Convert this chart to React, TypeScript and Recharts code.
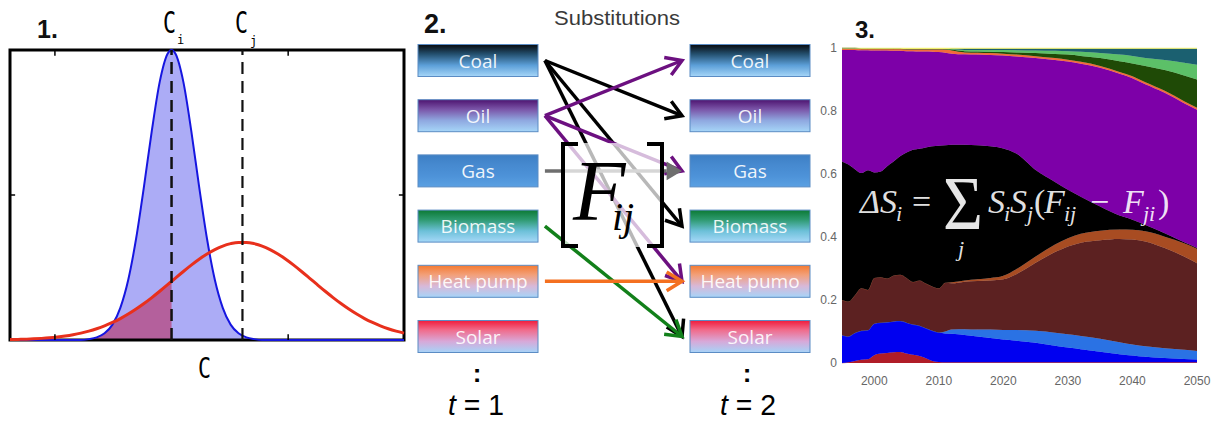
import React from 'react';
import {
  ComposedChart,
  AreaChart,
  Area,
  Line,
  Scatter,
  XAxis,
  YAxis,
  ReferenceLine,
  ReferenceArea,
} from 'recharts';

// ---- panel 1: two concentration densities ----
const cGrid = [
  0, 2, 4, 6, 8, 10, 12, 14, 16, 18, 20, 22, 24, 26, 28, 30, 32, 34, 36, 38, 40, 41, 42, 44, 46,
  48, 50, 52, 54, 56, 58, 60, 62, 64, 66, 68, 70, 72, 74, 76, 78, 80, 82, 84, 86, 88, 90, 92, 94,
  96, 98, 100,
];
const blueDensity = [
  0, 0, 0, 0, 0, 0, 0, 0, 0, 0, 0.3, 0.9, 2.3, 5.3, 11.1, 20.7, 34.9, 52.9, 72.2, 89.0, 98.7, 100,
  98.7, 89.0, 72.2, 52.9, 34.9, 20.7, 11.1, 5.3, 2.3, 0.9, 0.3, 0, 0, 0, 0, 0, 0, 0, 0, 0, 0, 0, 0,
  0, 0, 0, 0, 0, 0, 0,
];
const redDensity = [
  0.14, 0.2, 0.28, 0.4, 0.56, 0.76, 1.03, 1.38, 1.82, 2.37, 3.06, 3.89, 4.88, 6.05, 7.39, 8.94,
  10.67, 12.57, 14.62, 16.8, 19.06, 20.21, 21.36, 23.63, 25.81, 27.84, 29.66, 31.19, 32.4, 33.22,
  33.65, 33.65, 33.22, 32.4, 31.19, 29.66, 27.84, 25.81, 23.63, 21.36, 19.06, 16.8, 14.62, 12.57,
  10.67, 8.94, 7.39, 6.05, 4.88, 3.89, 3.06, 2.37,
];
// shaded part: under both curves, left of C_i
const overlapDensity: (number | null)[] = [
  0, 0, 0, 0, 0, 0, 0, 0, 0, 0, 0.3, 0.9, 2.3, 5.3, 7.39, 8.94, 10.67, 12.57, 14.62, 16.8, 19.06,
  20.21, null, null, null, null, null, null, null, null, null, null, null, null, null, null, null,
  null, null, null, null, null, null, null, null, null, null, null, null, null, null, null,
];
const meanI = 41;
const meanJ = 59;
const frameTicks = [11.4, 70.6];

const densityData = cGrid.map((c, i) => ({
  c,
  blue: blueDensity[i],
  red: redDensity[i],
  overlap: overlapDensity[i],
}));

// ---- panel 2: substitutions ----
const fuelsT1 = ['Coal', 'Oil', 'Gas', 'Biomass', 'Heat pump', 'Solar'];
const fuelsT2 = ['Coal', 'Oil', 'Gas', 'Biomass', 'Heat pumo', 'Solar'];
const boxShades = [
  ['#070a0e', '#24506f', '#5c9fd8', '#a6d6f8'],
  ['#4e1470', '#7a55a8', '#8fa8e0', '#a6d6f8'],
  ['#3d7fc4', '#4689cf', '#4d92d8', '#5aa0e2'],
  ['#0c7a35', '#2e9a70', '#6cc0d8', '#a6d8f8'],
  ['#f57a30', '#f2a07a', '#d8b8d8', '#a6d4f8'],
  ['#f01c3c', '#f06c8c', '#d8a8d8', '#a6d4f8'],
];
const substitutions = [
  { from: 'Coal', to: 'Oil', color: '#000000', head: 'open' },
  { from: 'Coal', to: 'Biomass', color: '#000000', head: 'open' },
  { from: 'Coal', to: 'Solar', color: '#000000', head: 'open' },
  { from: 'Oil', to: 'Coal', color: '#6c1080', head: 'open' },
  { from: 'Oil', to: 'Gas', color: '#6c1080', head: 'open' },
  { from: 'Oil', to: 'Heat pump', color: '#6c1080', head: 'open' },
  { from: 'Gas', to: 'Gas', color: '#6e6e6e', head: 'filled' },
  { from: 'Biomass', to: 'Solar', color: '#12801a', head: 'open' },
  { from: 'Heat pump', to: 'Heat pump', color: '#f47020', head: 'open' },
];
const arrowStartX = 0.246;
const arrowEndX = 0.75;

const boxesT1 = fuelsT1.map((name, row) => ({ col: 0, row, name }));
const boxesT2 = fuelsT2.map((name, row) => ({ col: 1, row, name }));

// ---- panel 3: market shares ----
const years = [
  1995, 1996, 1997, 1998, 1999, 2000, 2001, 2002, 2003, 2004, 2005, 2006, 2007, 2008, 2009, 2010,
  2011, 2012, 2014, 2016, 2018, 2020, 2022, 2025, 2028, 2030, 2032, 2035, 2038, 2040, 2042, 2045,
  2048, 2050,
];
const redShare = [
  0, 0.002, 0.006, 0.01, 0.012, 0.025, 0.03, 0.032, 0.034, 0.035, 0.03, 0.026, 0.022, 0.015, 0.006,
  0.003, 0.002, 0.002, 0.002, 0.002, 0.002, 0.002, 0.002, 0.002, 0.002, 0.002, 0.002, 0.002, 0.002,
  0.002, 0.002, 0.002, 0.002, 0.002,
];
const blueShare = [
  0.088, 0.082, 0.089, 0.092, 0.092, 0.1, 0.098, 0.097, 0.098, 0.098, 0.098, 0.096, 0.096, 0.095,
  0.096, 0.094, 0.092, 0.091, 0.087, 0.082, 0.077, 0.073, 0.069, 0.062, 0.053, 0.047, 0.042, 0.034,
  0.026, 0.022, 0.018, 0.014, 0.011, 0.009,
];
const lightBlueShare = [
  0, 0, 0, 0, 0, 0, 0, 0, 0, 0, 0, 0, 0, 0, 0, 0, 0.006, 0.013, 0.018, 0.022, 0.027, 0.03, 0.034,
  0.038, 0.041, 0.042, 0.042, 0.041, 0.038, 0.035, 0.033, 0.031, 0.029, 0.027,
];
const brownShare = [
  0.112, 0.111, 0.12, 0.135, 0.128, 0.145, 0.144, 0.139, 0.146, 0.147, 0.142, 0.135, 0.144, 0.142,
  0.141, 0.14, 0.155, 0.147, 0.151, 0.154, 0.156, 0.161, 0.177, 0.216, 0.256, 0.279, 0.296, 0.313,
  0.328, 0.333, 0.333, 0.318, 0.296, 0.279,
];
const rustShare = [
  0, 0, 0, 0, 0, 0, 0, 0, 0, 0, 0, 0, 0, 0, 0, 0, 0, 0.003, 0.004, 0.006, 0.008, 0.011, 0.016, 0.02,
  0.024, 0.026, 0.028, 0.03, 0.03, 0.031, 0.032, 0.036, 0.042, 0.046,
];
const blackShare = [
  0.44, 0.435, 0.4, 0.366, 0.38, 0.335, 0.336, 0.357, 0.362, 0.376, 0.398, 0.42, 0.418, 0.432,
  0.445, 0.453, 0.436, 0.437, 0.431, 0.425, 0.418, 0.404, 0.367, 0.275, 0.199, 0.154, 0.118, 0.077,
  0.044, 0.032, 0.02, 0.011, 0.003, 0.002,
];
const purpleShare = [
  0.354, 0.364, 0.379, 0.39, 0.381, 0.387, 0.384, 0.367, 0.351, 0.335, 0.322, 0.313, 0.309, 0.305,
  0.3, 0.297, 0.294, 0.289, 0.287, 0.288, 0.29, 0.295, 0.308, 0.355, 0.387, 0.407, 0.422, 0.44,
  0.45, 0.449, 0.447, 0.446, 0.442, 0.439,
];
const orangeShare = [
  0.005, 0.005, 0.005, 0.005, 0.005, 0.006, 0.006, 0.006, 0.007, 0.007, 0.007, 0.007, 0.008,
  0.008, 0.009, 0.01, 0.011, 0.01, 0.006, 0.006, 0.006, 0.006, 0.006, 0.006, 0.006, 0.006, 0.006,
  0.006, 0.006, 0.006, 0.006, 0.006, 0.006, 0.006,
];
const darkGreenShare = [
  0, 0, 0, 0, 0, 0, 0, 0, 0, 0, 0, 0, 0, 0, 0, 0, 0.001, 0.003, 0.004, 0.004, 0.004, 0.005, 0.007,
  0.01, 0.013, 0.016, 0.019, 0.025, 0.034, 0.041, 0.052, 0.066, 0.082, 0.09,
];
const lightGreenShare = [
  0, 0, 0, 0, 0, 0, 0, 0, 0, 0, 0, 0, 0, 0, 0, 0, 0, 0.002, 0.004, 0.005, 0.006, 0.007, 0.007,
  0.008, 0.01, 0.011, 0.013, 0.016, 0.021, 0.024, 0.025, 0.032, 0.04, 0.047,
];
const tealShare = [
  0, 0, 0, 0, 0, 0, 0, 0, 0, 0, 0, 0, 0, 0, 0, 0, 0, 0.001, 0.004, 0.004, 0.004, 0.004, 0.005,
  0.006, 0.007, 0.008, 0.01, 0.014, 0.019, 0.023, 0.03, 0.036, 0.045, 0.051,
];
const yellowShare = [
  0.001, 0.001, 0.001, 0.002, 0.002, 0.002, 0.002, 0.002, 0.002, 0.002, 0.003, 0.003, 0.003,
  0.003, 0.003, 0.003, 0.003, 0.002, 0.002, 0.002, 0.002, 0.002, 0.002, 0.002, 0.002, 0.002,
  0.002, 0.002, 0.002, 0.002, 0.002, 0.002, 0.002, 0.002,
];
const yearTicks = [2000, 2010, 2020, 2030, 2040, 2050];
const shareTicks = [0, 0.2, 0.4, 0.6, 0.8, 1];

const layers = [
  { key: 'red', values: redShare, color: '#b01c28' },
  { key: 'blue', values: blueShare, color: '#0000f0' },
  { key: 'lightBlue', values: lightBlueShare, color: '#2a72e4' },
  { key: 'brown', values: brownShare, color: '#5c2121' },
  { key: 'rust', values: rustShare, color: '#a84c22' },
  { key: 'black', values: blackShare, color: '#000000' },
  { key: 'purple', values: purpleShare, color: '#7d00a8' },
  { key: 'orange', values: orangeShare, color: '#f26a3a' },
  { key: 'darkGreen', values: darkGreenShare, color: '#1f4a06' },
  { key: 'lightGreen', values: lightGreenShare, color: '#5cc068' },
  { key: 'teal', values: tealShare, color: '#1b6070' },
  { key: 'yellow', values: yellowShare, color: '#f0f070' },
];

const shareData = years.map((year, i) => {
  const row: Record<string, number> = { year };
  layers.forEach((l) => {
    row[l.key] = l.values[i];
  });
  return row;
});

function FuelBox(props: any) {
  const { cx, cy, payload } = props;
  const shades = boxShades[payload.row];
  const id = `fuel-${payload.col}-${payload.row}`;
  return (
    <g>
      <defs>
        <linearGradient id={id} x1="0" y1="0" x2="0" y2="1">
          <stop offset="0%" stopColor={shades[0]} />
          <stop offset="30%" stopColor={shades[1]} />
          <stop offset="65%" stopColor={shades[2]} />
          <stop offset="100%" stopColor={shades[3]} />
        </linearGradient>
      </defs>
      <rect
        x={cx - 60}
        y={cy - 16}
        width={120}
        height={32}
        fill={`url(#${id})`}
        stroke="#5b8cc4"
        strokeWidth={1}
      />
      <text
        x={cx}
        y={cy + 7}
        textAnchor="middle"
        fill="#ffffff"
        fillOpacity={0.92}
        fontSize={19}
        fontFamily='"Open Sans", sans-serif'
      >
        {payload.name}
      </text>
    </g>
  );
}

function arrowShape(color: string, head: string) {
  return (props: any) => {
    const { x1, y1, x2, y2 } = props;
    const ang = Math.atan2(y2 - y1, x2 - x1);
    const len = 18;
    const spread = 0.55;
    const ax = x2 - len * Math.cos(ang - spread);
    const ay = y2 - len * Math.sin(ang - spread);
    const bx = x2 - len * Math.cos(ang + spread);
    const by = y2 - len * Math.sin(ang + spread);
    if (head === 'filled') {
      const mx = x2 - len * 0.85 * Math.cos(ang);
      const my = y2 - len * 0.85 * Math.sin(ang);
      return (
        <g>
          <line x1={x1} y1={y1} x2={mx} y2={my} stroke={color} strokeWidth={3.5} />
          <polygon points={`${x2},${y2} ${ax},${ay} ${bx},${by}`} fill={color} />
        </g>
      );
    }
    return (
      <g>
        <line x1={x1} y1={y1} x2={x2} y2={y2} stroke={color} strokeWidth={3.5} />
        <polyline
          points={`${ax},${ay} ${x2},${y2} ${bx},${by}`}
          fill="none"
          stroke={color}
          strokeWidth={3.5}
          strokeLinejoin="miter"
        />
      </g>
    );
  };
}

const rowOf = (name: string) => fuelsT1.indexOf(name);

export default function App() {
  const serif = '"Liberation Serif", "Times New Roman", serif';
  const mono = '"DejaVu Sans Mono", monospace';
  return (
    <div
      style={{
        position: 'absolute',
        left: 0,
        top: 0,
        width: 1221,
        height: 421,
        background: '#fff',
        overflow: 'hidden',
        fontFamily: '"Liberation Sans", Arial, sans-serif',
      }}
    >
      {/* 1. densities */}
      <div style={{ position: 'absolute', left: 0, top: 0 }}>
        <ComposedChart
          width={420}
          height={400}
          data={densityData}
          margin={{ top: 50, right: 16, left: 10, bottom: 60 }}
        >
          <XAxis dataKey="c" type="number" domain={[0, 100]} hide />
          <YAxis type="number" domain={[0, 100]} hide />
          <Area
            dataKey="blue"
            type="monotone"
            fill="#acacf6"
            fillOpacity={1}
            stroke="none"
            dot={false}
            isAnimationActive={false}
          />
          <Area
            dataKey="overlap"
            type="monotone"
            fill="#b4609c"
            fillOpacity={1}
            stroke="none"
            dot={false}
            isAnimationActive={false}
          />
          <Line
            dataKey="blue"
            type="monotone"
            stroke="#1616e0"
            strokeWidth={2}
            dot={false}
            isAnimationActive={false}
          />
          <Line
            dataKey="red"
            type="monotone"
            stroke="#e8301c"
            strokeWidth={3}
            dot={false}
            isAnimationActive={false}
          />
          <ReferenceLine x={meanI} stroke="#111" strokeWidth={2.5} strokeDasharray="12 7" />
          <ReferenceLine x={meanJ} stroke="#111" strokeWidth={2.2} strokeDasharray="12 7" />
          {frameTicks.map((t) => (
            <ReferenceLine
              key={`b${t}`}
              segment={[
                { x: t, y: 0 },
                { x: t, y: 2 },
              ]}
              stroke="#000"
              strokeWidth={1.5}
            />
          ))}
          {frameTicks.map((t) => (
            <ReferenceLine
              key={`t${t}`}
              segment={[
                { x: t, y: 98 },
                { x: t, y: 100 },
              ]}
              stroke="#000"
              strokeWidth={1.5}
            />
          ))}
          <ReferenceLine
            segment={[
              { x: 0, y: 50 },
              { x: 1.3, y: 50 },
            ]}
            stroke="#000"
            strokeWidth={1.5}
          />
          <ReferenceLine
            segment={[
              { x: 98.7, y: 50 },
              { x: 100, y: 50 },
            ]}
            stroke="#000"
            strokeWidth={1.5}
          />
          <ReferenceArea
            x1={0}
            x2={100}
            y1={0}
            y2={100}
            fill="none"
            stroke="#000"
            strokeWidth={3}
            ifOverflow="visible"
          />
        </ComposedChart>
      </div>

      {/* 2. substitutions */}
      <div style={{ position: 'absolute', left: 410, top: 0 }}>
        <ComposedChart
          width={420}
          height={421}
          margin={{ top: 60.5, right: 80, left: 68, bottom: 84.5 }}
        >
          <XAxis dataKey="col" type="number" domain={[0, 1]} hide />
          <YAxis dataKey="row" type="number" domain={[0, 5]} reversed hide />
          {substitutions.map((s, k) => (
            <ReferenceLine
              key={k}
              segment={[
                { x: arrowStartX, y: rowOf(s.from) },
                { x: arrowEndX, y: rowOf(s.to) },
              ]}
              stroke={s.color}
              strokeWidth={3}
              ifOverflow="visible"
              shape={arrowShape(s.color, s.head)}
            />
          ))}
          <Scatter data={boxesT1} shape={FuelBox} isAnimationActive={false} />
          <Scatter data={boxesT2} shape={FuelBox} isAnimationActive={false} />
        </ComposedChart>
      </div>

      {/* 3. shares */}
      <div style={{ position: 'absolute', left: 800, top: 0 }}>
        <AreaChart
          width={421}
          height={421}
          data={shareData}
          margin={{ top: 48, right: 24, left: 12, bottom: 28 }}
        >
          <XAxis
            dataKey="year"
            type="number"
            domain={[1995, 2050]}
            ticks={yearTicks}
            axisLine={false}
            tickLine={false}
            tickSize={0}
            tickMargin={13}
            height={30}
            tick={{ fill: '#666', fontSize: 12 }}
          />
          <YAxis
            type="number"
            domain={[0, 1]}
            ticks={shareTicks}
            axisLine={false}
            tickLine={false}
            tickSize={0}
            tickMargin={5}
            width={30}
            tick={{ fill: '#666', fontSize: 12 }}
          />
          {layers.map((l) => (
            <Area
              key={l.key}
              dataKey={l.key}
              stackId="shares"
              type="monotone"
              fill={l.color}
              fillOpacity={1}
              stroke={l.color}
              strokeWidth={0.5}
              isAnimationActive={false}
            />
          ))}
        </AreaChart>
      </div>

      {/* annotations */}
      <svg
        width={1221}
        height={421}
        style={{ position: 'absolute', left: 0, top: 0, pointerEvents: 'none' }}
      >
        <text x={37} y={38} fontSize={25} fontWeight="bold" fill="#111">
          1.
        </text>
        <text x={163} y={33} fontSize={30} fontFamily={mono} textLength={13} lengthAdjust="spacingAndGlyphs">
          C
        </text>
        <text x={177} y={44} fontSize={12} fontFamily={mono}>
          i
        </text>
        <text x={235} y={33} fontSize={30} fontFamily={mono} textLength={13} lengthAdjust="spacingAndGlyphs">
          C
        </text>
        <text x={250} y={45} fontSize={12} fontFamily={mono}>
          j
        </text>
        <text x={198} y={378} fontSize={28} fontFamily={mono} textLength={13} lengthAdjust="spacingAndGlyphs">
          C
        </text>

        <text x={424} y={33} fontSize={27} fontWeight="bold" fill="#111">
          2.
        </text>
        <text x={554} y={25} fontSize={20} fill="#3a3a3a" textLength={126} lengthAdjust="spacingAndGlyphs">
          Substitutions
        </text>
        <rect x={563} y={143} width={99} height={104} fill="#fff" fillOpacity={0.72} />
        <polyline points="578,144 563,144 563,246 578,246" fill="none" stroke="#000" strokeWidth={4} />
        <polyline points="647,144 662,144 662,246 647,246" fill="none" stroke="#000" strokeWidth={4} />
        <text x={573} y={220} fontSize={86} fontFamily={serif} fontStyle="italic">
          F
        </text>
        <text x={612} y={230} fontSize={40} fontFamily={serif} fontStyle="italic">
          ij
        </text>
        <text x={477} y={382} fontSize={26} fontWeight="bold" textAnchor="middle">
          :
        </text>
        <text x={747} y={382} fontSize={26} fontWeight="bold" textAnchor="middle">
          :
        </text>
        <text x={448} y={415} fontSize={30} textLength={56} lengthAdjust="spacingAndGlyphs">
          <tspan fontStyle="italic">t</tspan> = 1
        </text>
        <text x={720} y={415} fontSize={30} textLength={56} lengthAdjust="spacingAndGlyphs">
          <tspan fontStyle="italic">t</tspan> = 2
        </text>

        <text x={855} y={38} fontSize={24} fontWeight="bold" fill="#111">
          3.
        </text>
        <g fill="#ffffff" fillOpacity={0.9} fontFamily={serif}>
          <text x={860} y={213} fontSize={34} fontStyle="italic">ΔS</text>
          <text x={896} y={221} fontSize={22} fontStyle="italic">i</text>
          <text x={912} y={213} fontSize={34}>=</text>
          <text x={943} y={229} fontSize={76} textLength={40} lengthAdjust="spacingAndGlyphs">Σ</text>
          <text x={958} y={256} fontSize={22} fontStyle="italic">j</text>
          <text x={988} y={213} fontSize={34} fontStyle="italic">S</text>
          <text x={1004} y={221} fontSize={22} fontStyle="italic">i</text>
          <text x={1010} y={213} fontSize={34} fontStyle="italic">S</text>
          <text x={1027} y={221} fontSize={22} fontStyle="italic">j</text>
          <text x={1034} y={213} fontSize={34}>(</text>
          <text x={1044} y={213} fontSize={34} fontStyle="italic">F</text>
          <text x={1064} y={221} fontSize={22} fontStyle="italic">ij</text>
          <text x={1090} y={213} fontSize={34}>−</text>
          <text x={1123} y={213} fontSize={34} fontStyle="italic">F</text>
          <text x={1143} y={221} fontSize={22} fontStyle="italic">ji</text>
          <text x={1158} y={213} fontSize={34}>)</text>
        </g>
      </svg>
    </div>
  );
}
